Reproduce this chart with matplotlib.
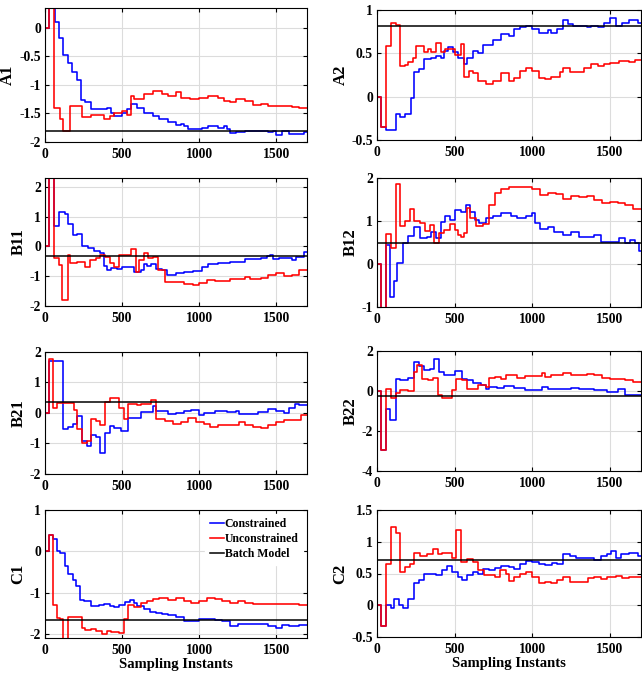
import matplotlib
matplotlib.use("Agg")
import matplotlib.pyplot as plt
import numpy as np

plt.rcParams["font.family"] = ["Liberation Serif", "DejaVu Serif"]
plt.rcParams["font.weight"] = "bold"

x_end = 1700

# each series: breakpoints (sample where value starts) and the held value
a1_con_x = [0, 25, 65, 90, 120, 150, 175, 205, 235, 260, 300, 400, 430, 450, 500, 530, 560, 600, 640, 700, 740, 800, 850, 880, 900, 930, 1020, 1060, 1120, 1160, 1180, 1200, 1240, 1300, 1350, 1400, 1450, 1480, 1500, 1540, 1580, 1680]
a1_con_y = [0, 0.5, 0.1, -0.17, -0.47, -0.62, -0.77, -0.92, -1.27, -1.3, -1.43, -1.41, -1.5, -1.55, -1.5, -1.42, -1.34, -1.4, -1.5, -1.55, -1.6, -1.65, -1.7, -1.68, -1.72, -1.78, -1.75, -1.72, -1.75, -1.72, -1.78, -1.85, -1.82, -1.81, -1.8, -1.81, -1.82, -1.8, -1.88, -1.8, -1.86, -1.83]
a1_unc_x = [0, 25, 60, 100, 120, 160, 240, 300, 380, 420, 450, 500, 530, 560, 580, 640, 700, 760, 800, 850, 880, 940, 1000, 1060, 1120, 1160, 1200, 1240, 1300, 1350, 1400, 1450, 1500, 1550, 1600, 1650]
a1_unc_y = [0, 0.5, -1.4, -1.6, -1.8, -1.37, -1.57, -1.52, -1.6, -1.55, -1.5, -1.45, -1.52, -1.2, -1.25, -1.15, -1.1, -1.15, -1.2, -1.13, -1.22, -1.25, -1.22, -1.2, -1.22, -1.28, -1.3, -1.25, -1.28, -1.35, -1.34, -1.36, -1.37, -1.36, -1.38, -1.4]

a2_con_x = [0, 25, 60, 120, 150, 180, 220, 240, 270, 300, 350, 380, 410, 430, 460, 490, 520, 560, 580, 620, 650, 680, 750, 800, 850, 880, 920, 960, 1000, 1040, 1100, 1120, 1160, 1200, 1230, 1260, 1350, 1380, 1420, 1460, 1500, 1540, 1580, 1620, 1680]
a2_con_y = [0, -0.35, -0.38, -0.2, -0.24, -0.2, -0.02, 0.28, 0.32, 0.44, 0.45, 0.47, 0.45, 0.53, 0.57, 0.52, 0.45, 0.38, 0.45, 0.53, 0.5, 0.6, 0.65, 0.72, 0.7, 0.78, 0.8, 0.82, 0.78, 0.73, 0.77, 0.74, 0.78, 0.88, 0.84, 0.82, 0.8, 0.82, 0.8, 0.85, 0.91, 0.82, 0.85, 0.88, 0.85]
a2_unc_x = [0, 25, 60, 90, 120, 150, 180, 200, 230, 250, 300, 330, 350, 380, 410, 440, 500, 540, 560, 590, 620, 650, 700, 750, 800, 850, 880, 920, 960, 1000, 1040, 1080, 1120, 1180, 1200, 1240, 1330, 1380, 1420, 1460, 1500, 1560, 1620, 1660]
a2_unc_y = [0, -0.35, 0.58, 0.85, 0.83, 0.35, 0.36, 0.4, 0.45, 0.58, 0.52, 0.55, 0.52, 0.62, 0.52, 0.55, 0.48, 0.61, 0.23, 0.3, 0.27, 0.18, 0.15, 0.18, 0.27, 0.18, 0.22, 0.3, 0.33, 0.3, 0.22, 0.2, 0.23, 0.28, 0.33, 0.28, 0.33, 0.38, 0.35, 0.38, 0.39, 0.41, 0.4, 0.42]

b11_con_x = [0, 25, 60, 90, 130, 150, 180, 210, 240, 280, 320, 360, 380, 400, 430, 470, 500, 560, 580, 620, 640, 660, 690, 720, 760, 790, 850, 900, 960, 1020, 1060, 1120, 1200, 1300, 1400, 1440, 1460, 1480, 1520, 1600, 1630, 1680]
b11_con_y = [0, 2.5, 0.7, 1.15, 1.1, 0.75, 0.37, 0.43, 0.0, -0.05, -0.15, -0.22, -0.65, -0.8, -0.72, -0.75, -0.7, -0.68, -0.85, -0.8, -0.58, -0.65, -0.6, -0.75, -0.8, -0.95, -0.9, -0.85, -0.82, -0.68, -0.6, -0.56, -0.52, -0.42, -0.4, -0.33, -0.3, -0.42, -0.38, -0.47, -0.35, -0.18]
b11_unc_x = [0, 25, 60, 90, 110, 150, 160, 210, 260, 290, 330, 360, 390, 420, 450, 480, 530, 560, 590, 610, 640, 670, 700, 730, 780, 900, 960, 1000, 1050, 1100, 1200, 1300, 1330, 1400, 1450, 1500, 1550, 1600, 1650]
b11_unc_y = [0, 2.5, -0.38, -0.63, -1.8, -0.3, -0.55, -0.52, -0.68, -0.45, -0.38, -0.28, -0.35, -0.55, -0.7, -0.3, -0.28, -0.08, -0.85, -0.45, -0.22, -0.38, -0.35, -0.8, -1.18, -1.25, -1.28, -1.22, -1.12, -1.15, -1.1, -1.02, -1.1, -1.05, -0.95, -0.9, -1.0, -0.95, -0.78]

b12_con_x = [0, 25, 55, 85, 110, 130, 170, 200, 240, 280, 320, 350, 380, 410, 440, 470, 500, 540, 570, 600, 630, 660, 700, 750, 800, 860, 900, 960, 1000, 1020, 1050, 1100, 1140, 1200, 1250, 1300, 1400, 1440, 1560, 1600, 1630, 1660, 1690]
b12_con_y = [0, -1.05, 0.45, -0.77, -0.4, 0.02, 0.48, 0.65, 0.86, 0.6, 0.62, 0.75, 0.6, 0.97, 1.12, 1.02, 1.25, 1.22, 1.37, 1.2, 1.03, 0.95, 1.07, 1.12, 1.18, 1.12, 1.08, 1.12, 1.18, 0.95, 0.82, 0.85, 0.75, 0.68, 0.75, 0.62, 0.68, 0.52, 0.6, 0.5, 0.55, 0.48, 0.3]
b12_unc_x = [0, 25, 60, 90, 120, 150, 180, 210, 240, 280, 310, 340, 370, 400, 430, 470, 500, 520, 540, 560, 580, 600, 640, 680, 720, 760, 800, 850, 950, 1000, 1050, 1100, 1150, 1200, 1250, 1300, 1350, 1400, 1450, 1500, 1550, 1600, 1650]
b12_unc_y = [0, -1.05, 0.7, 0.38, 1.85, 0.88, 1.0, 1.27, 1.0, 0.95, 0.77, 0.9, 0.5, 0.72, 0.78, 0.93, 0.8, 0.68, 0.63, 0.72, 1.3, 1.08, 0.88, 0.92, 1.37, 1.65, 1.75, 1.78, 1.8, 1.75, 1.6, 1.65, 1.62, 1.52, 1.58, 1.55, 1.58, 1.5, 1.42, 1.45, 1.42, 1.38, 1.27]

b21_con_x = [0, 25, 120, 150, 180, 210, 240, 270, 300, 330, 360, 390, 420, 450, 490, 540, 580, 620, 700, 720, 800, 850, 900, 950, 1000, 1030, 1100, 1180, 1240, 1260, 1380, 1450, 1500, 1550, 1580, 1620, 1650]
b21_con_y = [0, 1.72, -0.52, -0.45, -0.35, -0.1, -0.92, -1.08, -0.72, -0.78, -1.32, -0.65, -0.42, -0.48, -0.6, -0.15, -0.18, 0.03, 0.22, 0.05, -0.03, 0.0, 0.08, 0.1, -0.05, 0.0, 0.05, 0.03, 0.05, -0.03, 0.03, 0.12, 0.05, 0.0, 0.17, 0.3, 0.27]
b21_unc_x = [0, 25, 55, 80, 190, 210, 240, 270, 300, 330, 360, 390, 420, 480, 510, 540, 600, 620, 690, 720, 780, 830, 880, 930, 980, 1030, 1070, 1120, 1230, 1260, 1300, 1350, 1400, 1450, 1500, 1550, 1660]
b21_unc_y = [0, 1.77, 0.15, 0.33, 0.1, -0.52, -1.0, -0.92, -0.2, -0.25, -0.38, 0.35, 0.5, 0.15, -0.2, 0.3, 0.25, 0.3, 0.42, -0.2, -0.25, -0.35, -0.3, -0.18, -0.3, -0.35, -0.45, -0.38, -0.4, -0.28, -0.38, -0.45, -0.48, -0.4, -0.3, -0.22, -0.05]

b22_con_x = [0, 25, 60, 85, 120, 150, 200, 240, 270, 300, 340, 370, 400, 430, 500, 550, 580, 620, 670, 700, 720, 770, 820, 880, 950, 1060, 1100, 1200, 1250, 1300, 1400, 1480, 1550, 1600]
b22_con_y = [0, -2.95, -0.9, -1.45, 0.6, 0.55, 0.65, 1.45, 1.25, 1.05, 1.1, 1.6, 0.95, 0.78, 1.0, 0.6, 0.55, 0.4, 0.3, 0.12, 0.2, 0.15, 0.25, 0.15, 0.05, 0.18, 0.12, 0.1, 0.17, 0.12, 0.05, -0.05, 0.1, -0.18]
b22_unc_x = [0, 25, 60, 90, 120, 150, 200, 240, 260, 290, 330, 360, 390, 420, 480, 510, 550, 580, 650, 700, 720, 760, 800, 830, 900, 950, 1060, 1080, 1120, 1200, 1250, 1300, 1350, 1400, 1450, 1500, 1600, 1650]
b22_unc_y = [0, -2.95, 0.1, -0.35, -0.1, 0.05, 0.0, 0.95, 1.3, 0.6, 0.55, 0.65, -0.2, -0.35, 0.05, 0.6, 0.55, 0.1, 0.3, 0.2, 0.65, 0.7, 0.6, 0.8, 0.65, 0.75, 0.9, 0.7, 0.8, 0.88, 0.8, 0.78, 0.85, 0.82, 0.65, 0.6, 0.55, 0.45]

c1_con_x = [0, 25, 55, 75, 100, 130, 150, 180, 200, 230, 250, 300, 350, 380, 420, 450, 480, 520, 550, 580, 600, 640, 680, 720, 760, 800, 850, 900, 950, 1000, 1060, 1100, 1150, 1200, 1250, 1400, 1450, 1500, 1540, 1580, 1650]
c1_con_y = [0, 0.4, 0.3, 0.0, -0.05, -0.35, -0.55, -0.7, -0.85, -1.17, -1.2, -1.32, -1.3, -1.27, -1.33, -1.35, -1.3, -1.22, -1.17, -1.25, -1.32, -1.4, -1.47, -1.5, -1.52, -1.55, -1.6, -1.68, -1.7, -1.65, -1.63, -1.67, -1.68, -1.8, -1.75, -1.77, -1.8, -1.85, -1.78, -1.82, -1.78]
c1_unc_x = [0, 25, 55, 80, 100, 120, 150, 240, 260, 300, 330, 370, 400, 430, 480, 510, 540, 580, 620, 660, 700, 740, 800, 850, 900, 950, 1000, 1050, 1100, 1150, 1200, 1250, 1300, 1350, 1650]
c1_unc_y = [0, 0.4, -1.3, -1.62, -1.65, -2.5, -1.58, -1.85, -1.9, -1.87, -1.92, -2.0, -1.92, -1.95, -1.97, -1.65, -1.3, -1.35, -1.25, -1.2, -1.15, -1.12, -1.17, -1.12, -1.2, -1.25, -1.2, -1.12, -1.15, -1.2, -1.25, -1.2, -1.25, -1.28, -1.3]

c2_con_x = [0, 25, 60, 90, 110, 140, 170, 200, 240, 270, 300, 380, 420, 450, 480, 520, 550, 580, 620, 650, 680, 720, 760, 800, 850, 880, 920, 960, 1000, 1040, 1080, 1130, 1160, 1200, 1240, 1280, 1400, 1440, 1480, 1510, 1540, 1570, 1620, 1680]
c2_con_y = [0, -0.33, 0.0, -0.05, 0.1, 0.0, -0.05, 0.1, 0.35, 0.4, 0.5, 0.47, 0.55, 0.62, 0.52, 0.45, 0.4, 0.47, 0.52, 0.5, 0.57, 0.55, 0.58, 0.62, 0.6, 0.57, 0.65, 0.7, 0.68, 0.65, 0.63, 0.67, 0.65, 0.8, 0.77, 0.75, 0.72, 0.77, 0.8, 0.85, 0.75, 0.8, 0.83, 0.78]
c2_unc_x = [0, 25, 60, 90, 120, 150, 180, 210, 240, 280, 320, 360, 390, 420, 480, 510, 540, 580, 620, 650, 690, 760, 790, 830, 850, 880, 920, 960, 1000, 1040, 1080, 1120, 1160, 1200, 1240, 1360, 1400, 1440, 1480, 1540, 1580, 1620]
c2_unc_y = [0, -0.33, 0.65, 1.23, 1.13, 0.53, 0.6, 0.65, 0.82, 0.77, 0.8, 0.88, 0.8, 0.82, 0.75, 1.18, 0.68, 0.73, 0.68, 0.55, 0.48, 0.45, 0.55, 0.5, 0.38, 0.45, 0.5, 0.52, 0.45, 0.35, 0.37, 0.35, 0.4, 0.45, 0.37, 0.43, 0.45, 0.42, 0.45, 0.46, 0.43, 0.45]

names = ["A1", "A2", "B11", "B12", "B21", "B22", "C1", "C2"]
batch = [-1.8, 0.82, -0.33, 0.5, 0.35, -0.25, -1.67, 0.71]
con = [(a1_con_x, a1_con_y), (a2_con_x, a2_con_y), (b11_con_x, b11_con_y), (b12_con_x, b12_con_y),
       (b21_con_x, b21_con_y), (b22_con_x, b22_con_y), (c1_con_x, c1_con_y), (c2_con_x, c2_con_y)]
unc = [(a1_unc_x, a1_unc_y), (a2_unc_x, a2_unc_y), (b11_unc_x, b11_unc_y), (b12_unc_x, b12_unc_y),
       (b21_unc_x, b21_unc_y), (b22_unc_x, b22_unc_y), (c1_unc_x, c1_unc_y), (c2_unc_x, c2_unc_y)]
ylims = [(-2, 0.35), (-0.5, 1), (-2, 2.3), (-1, 2), (-2, 2), (-4, 2), (-2.1, 1), (-0.5, 1.5)]
yticks = [[-2, -1.5, -1, -0.5, 0], [-0.5, 0, 0.5, 1], [-2, -1, 0, 1, 2], [-1, 0, 1, 2],
          [-2, -1, 0, 1, 2], [-4, -2, 0, 2], [-2, -1, 0, 1], [-0.5, 0, 0.5, 1, 1.5]]

# axes boxes in pixels: left, top, right, bottom
W, H = 642, 675
boxes = [(45, 8, 307, 142), (377, 10, 641, 140),
         (45, 178, 307, 306), (377, 178, 641, 307),
         (45, 352, 307, 474), (377, 351, 641, 471),
         (45, 510, 307, 638), (377, 510, 641, 637)]


def stairs(xs, ys):
    xx = list(xs) + [x_end]
    yy = list(ys) + [ys[-1]]
    return xx, yy


fig = plt.figure(figsize=(W / 100, H / 100), dpi=100)

for i in range(8):
    l, t, r, b = boxes[i]
    ax = fig.add_axes([l / W, 1 - b / H, (r - l) / W, (b - t) / H])
    ax.grid(True, color="#dcdcdc", linewidth=0.8)
    ax.set_axisbelow(True)
    xs, ys = stairs(*con[i])
    ax.step(xs, ys, where="post", color="blue", lw=1.15, label="Constrained")
    xs, ys = stairs(*unc[i])
    ax.step(xs, ys, where="post", color="red", lw=1.15, label="Unconstrained")
    ax.axhline(batch[i], color="black", lw=1.1, label="Batch Model")
    ax.set_xlim(0, x_end)
    ax.set_ylim(*ylims[i])
    ax.set_xticks([0, 500, 1000, 1500])
    ax.set_yticks(yticks[i])
    ax.set_yticklabels(["%g" % v for v in yticks[i]])
    ax.tick_params(direction="in", top=True, right=True, labelsize=9.8, length=3, width=0.8)
    ax.tick_params(axis="x", pad=4)
    ax.tick_params(axis="y", pad=3)
    for lab in ax.get_xticklabels() + ax.get_yticklabels():
        lab.set_fontweight("bold")
    for sp in ax.spines.values():
        sp.set_linewidth(0.8)
    ax.set_ylabel(names[i], fontsize=12, fontweight="bold", labelpad=2)
    if i >= 6:
        ax.set_xlabel("Sampling Instants", fontsize=10.5, fontweight="bold", labelpad=1)
    if i == 6:
        leg = ax.legend(loc="upper right", fontsize=8.5, frameon=True, framealpha=1,
                        edgecolor="white", handlelength=1.2, handletextpad=0.1,
                        borderpad=0.4, labelspacing=0.25, borderaxespad=0.3)
        for txt in leg.get_texts():
            txt.set_fontweight("bold")

fig.savefig("out.png", dpi=100)
